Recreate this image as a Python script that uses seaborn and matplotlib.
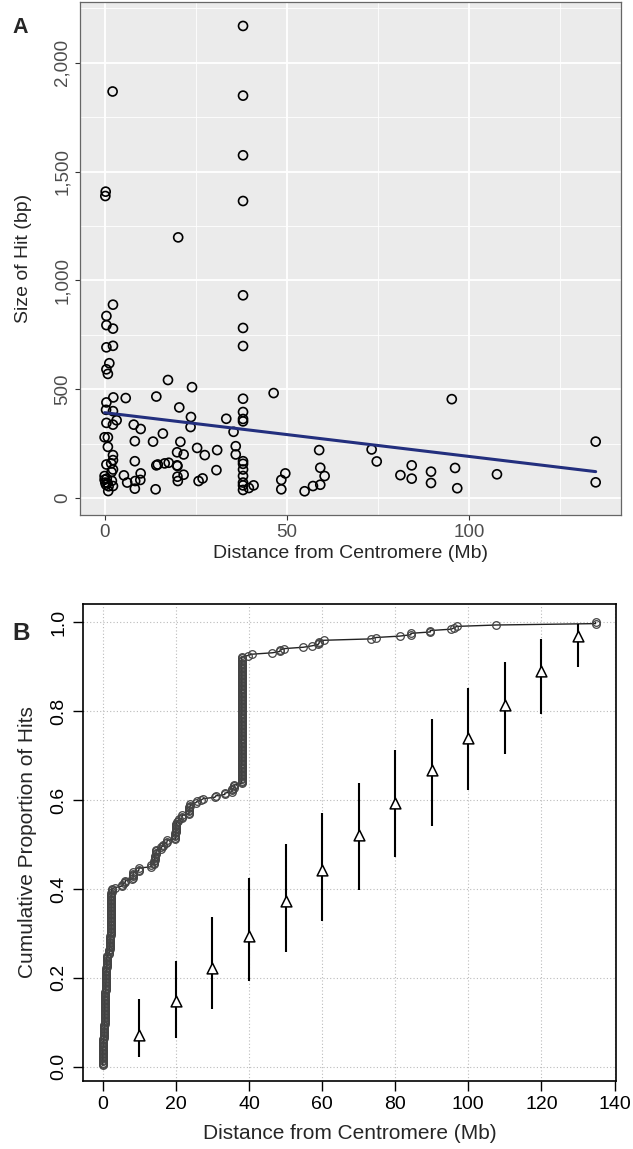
import numpy as np
import pandas as pd
import matplotlib
matplotlib.use('Agg')
import matplotlib.pyplot as plt
import seaborn as sns
from matplotlib.ticker import StrMethodFormatter, MultipleLocator

# each entry = one hit locus: distance (Mb), size (bp), number of hits at that locus

# right at the centromere (< 1.5 Mb)
near_dist = [0.3, 0.2, 0.5, 0.5, 0.5, 1.3, 0.5, 0.9, 0.5, 0.4, 0.5, 0.0, 0.9, 0.9, 0.5, 0.0, 1.0,
             0.0, 0.2, 0.4, 0.6, 0.8, 1.1]
near_size = [1408, 1388, 837, 795, 693, 620, 592, 571, 440, 406, 346, 280, 280, 236, 155, 102, 33,
             85, 72, 62, 90, 70, 55]
near_count = [1, 1, 2, 2, 2, 2, 2, 2, 3, 3, 3, 3, 3, 3, 4, 4, 3,
              6, 6, 6, 6, 6, 7]

# second cluster around 2 Mb
mid_dist = [2.2, 2.3, 2.3, 2.3, 2.4, 2.3, 2.3, 2.3, 2.3, 2.3, 2.3, 1.8, 1.9, 2.0]
mid_size = [1868, 889, 779, 700, 463, 400, 338, 198, 175, 132, 56, 160, 120, 80]
mid_count = [1, 1, 2, 4, 3, 4, 3, 3, 4, 4, 5, 4, 4, 6]

# along the arm, 3 - 37 Mb
arm_dist = [3.3, 5.3, 5.8, 6.2, 8.0, 8.3, 8.3, 8.3, 8.4, 9.8, 9.9, 9.9,
            13.3, 14.0, 14.2, 14.2, 14.6, 16.0, 16.5, 17.6, 17.4,
            19.9, 19.9, 20.0, 20.0, 20.1, 20.2, 20.5, 20.8, 21.7, 21.7,
            23.6, 23.7, 24.0, 25.4, 25.8, 26.9, 27.5, 30.7, 30.9,
            33.4, 35.4, 36.0, 36.0]
arm_size = [358, 105, 460, 72, 338, 262, 170, 44, 79, 84, 318, 114,
            260, 41, 467, 151, 155, 297, 160, 163, 543,
            211, 151, 148, 99, 79, 1198, 417, 259, 201, 108,
            327, 373, 510, 231, 79, 91, 198, 129, 221,
            365, 305, 239, 201]
arm_count = [1, 2, 1, 2, 1, 1, 2, 1, 1, 1, 1, 1,
             2, 3, 1, 3, 4, 2, 2, 2, 1,
             2, 3, 3, 2, 2, 1, 1, 1, 1, 2,
             3, 3, 2, 1, 1, 1, 1, 1, 1,
             2, 3, 2, 1]

# the big cluster at ~38 Mb
peak_dist = [38.0, 38.0, 38.0, 38.0, 38.0, 38.0, 38.0, 38.0, 38.0,
             38.0, 38.0, 38.0, 38.0, 38.0, 38.0, 38.0, 38.0, 38.0]
peak_size = [2169, 1849, 1575, 1365, 932, 782, 699, 457, 396, 364, 353, 170, 158, 132, 102, 72, 59, 38]
peak_count = [1, 1, 1, 1, 2, 2, 6, 3, 5, 5, 5, 7, 7, 6, 6, 13, 13, 8]

# distal hits, > 38.5 Mb
far_dist = [39.6, 40.9, 46.4, 48.5, 48.5, 49.6, 54.9, 57.2, 58.9, 59.2, 60.4, 59.2,
            73.3, 74.7, 81.2, 84.3, 84.3, 89.6, 89.6, 95.3, 96.2, 96.8, 107.7, 134.8, 134.8]
far_size = [47, 59, 483, 84, 41, 114, 32, 56, 221, 140, 102, 62,
            224, 169, 106, 151, 90, 122, 70, 455, 139, 46, 110, 260, 73]
far_count = [1, 1, 1, 1, 1, 1, 1, 1, 1, 1, 1, 1,
             1, 1, 1, 1, 1, 1, 1, 1, 1, 1, 1, 1, 1]

# expected cumulative proportion under a uniform model (triangles + ranges)
exp_dist = [10, 20, 30, 40, 50, 60, 70, 80, 90, 100, 110, 120, 130]
exp_prop = [0.071, 0.149, 0.222, 0.294, 0.372, 0.443, 0.521, 0.594, 0.667, 0.740, 0.814, 0.890, 0.968]
exp_low = [0.022, 0.065, 0.129, 0.193, 0.258, 0.327, 0.397, 0.472, 0.542, 0.622, 0.704, 0.793, 0.899]
exp_high = [0.153, 0.239, 0.337, 0.424, 0.501, 0.571, 0.639, 0.712, 0.782, 0.852, 0.911, 0.962, 0.997]

hits = pd.DataFrame({
    'dist': near_dist + mid_dist + arm_dist + peak_dist + far_dist,
    'size': near_size + mid_size + arm_size + peak_size + far_size,
    'count': near_count + mid_count + arm_count + peak_count + far_count,
})

# cumulative proportion of all hits (loci repeated by their hit count)
all_dist = np.sort(np.repeat(hits['dist'].values, hits['count'].values))
ecdf = pd.DataFrame({'dist': all_dist, 'prop': np.arange(1, len(all_dist) + 1) / len(all_dist)})

sns.set_theme(style='white')
plt.rcParams['font.family'] = ['Liberation Sans', 'DejaVu Sans']

fig = plt.figure(figsize=(6.33, 11.49), dpi=100)
axA = fig.add_axes([80 / 633, 1 - 515 / 1149, 541 / 633, 513 / 1149])
axB = fig.add_axes([83 / 633, 1 - 1081 / 1149, 533 / 633, 477 / 1149])

#! Panel A - size vs distance (ggplot look)
axA.set_facecolor('#EBEBEB')
axA.xaxis.set_major_locator(MultipleLocator(50))
axA.xaxis.set_minor_locator(MultipleLocator(25))
axA.yaxis.set_major_locator(MultipleLocator(500))
axA.yaxis.set_minor_locator(MultipleLocator(250))
axA.grid(which='major', color='white', lw=1.3)
axA.grid(which='minor', color='white', lw=0.6)
axA.set_axisbelow(True)
sns.scatterplot(data=hits, x='dist', y='size', ax=axA, marker='o', s=42,
                facecolor='none', edgecolor='black', linewidth=1.2, zorder=3)
sns.regplot(data=hits, x='dist', y='size', ax=axA, scatter=False, ci=None,
            line_kws=dict(color='#232F7E', lw=2.2, zorder=4))
axA.set_xlim(-6.75, 141.75)
axA.set_ylim(-77, 2279)
axA.yaxis.set_major_formatter(StrMethodFormatter('{x:,.0f}'))
for sp in axA.spines.values():
    sp.set_visible(True)
    sp.set_color('#666666')
    sp.set_linewidth(0.9)
axA.tick_params(which='major', length=3.5, width=0.8, color='#333333', labelsize=13.5,
                labelcolor='#4D4D4D', pad=3, bottom=True, left=True)
axA.tick_params(which='minor', length=0)
for t in axA.get_yticklabels():
    t.set_rotation(90)
    t.set_va('center')
axA.set_xlabel('Distance from Centromere (Mb)', fontsize=14, labelpad=3)
axA.set_ylabel('Size of Hit (bp)', fontsize=14, labelpad=16)

#! Panel B - cumulative proportion (base R look)
axB.set_facecolor('white')
axB.set_xticks([0, 20, 40, 60, 80, 100, 120, 140])
axB.set_yticks([0.0, 0.2, 0.4, 0.6, 0.8, 1.0])
axB.yaxis.set_major_formatter(StrMethodFormatter('{x:.1f}'))
axB.grid(True, color='#BBBBBB', lw=0.8, ls=(0, (1, 2)))
axB.set_axisbelow(True)
sns.lineplot(data=ecdf, x='dist', y='prop', ax=axB, estimator=None, sort=False,
             color='#222222', lw=1.0, marker='o', markersize=5.5, mfc='none',
             mec='#444444', mew=0.9, zorder=3)
axB.vlines(exp_dist, exp_low, exp_high, color='black', lw=1.5, zorder=4)
sns.scatterplot(x=exp_dist, y=exp_prop, ax=axB, marker='^', s=60, facecolor='white',
                edgecolor='black', linewidth=1.1, zorder=5)
axB.set_xlim(-5.4, 140.4)
axB.set_ylim(-0.032, 1.041)
for sp in axB.spines.values():
    sp.set_visible(True)
    sp.set_color('black')
    sp.set_linewidth(1.2)
axB.tick_params(length=7, width=1.0, color='black', labelsize=14, labelcolor='black',
                pad=4, bottom=True, left=True, direction='out')
for t in axB.get_yticklabels():
    t.set_rotation(90)
    t.set_va('center')
axB.set_xlabel('Distance from Centromere (Mb)', fontsize=15, labelpad=8)
axB.set_ylabel('Cumulative Proportion of Hits', fontsize=15, labelpad=10)

fig.text(12 / 633, 1 - 33 / 1149, 'A', fontsize=15.5, fontweight='bold')
fig.text(12 / 633, 1 - 640 / 1149, 'B', fontsize=17.5, fontweight='bold')

fig.savefig('out.png', dpi=100)
